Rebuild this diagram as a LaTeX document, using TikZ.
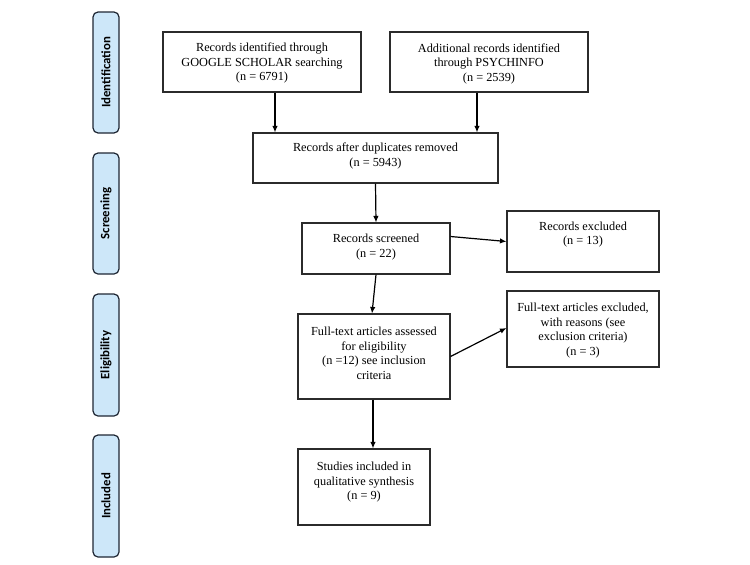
\documentclass[tikz,border=0pt]{standalone}
\usepackage{fontspec}
\setmainfont{Liberation Serif}
\newfontfamily\barfont{Carlito}
\usetikzlibrary{arrows.meta}
\definecolor{barfill}{HTML}{CDE7F9}
\definecolor{barline}{HTML}{1E2633}
\definecolor{boxline}{HTML}{2B2B2B}
\tikzset{
  box/.style={draw=boxline, line width=1.1pt, inner sep=0pt, fill=white},
  boxtext/.style={inner sep=0pt, align=center, font=\fontsize{12.3}{14.6}\selectfont},
  sidebar/.style={draw=barline, fill=barfill, line width=1.2pt, rounded corners=5pt, inner sep=0pt},
  sidetext/.style={rotate=90, font=\barfont\bfseries\fontsize{12.8}{14}\selectfont, inner sep=0pt},
  arr/.style={-{Latex[length=6.5pt,width=5.5pt]}, line width=1.2pt, black}
}
\newcommand{\flowbox}[7]{%
  \node[box, minimum width={(#4-#2)*1pt}, minimum height={(#5-#3)*1pt}] (#1) at ({(#2+#4)/2*1pt},{-(#3+#5)/2*1pt}) {};
  \node[boxtext, anchor=north, yshift={-#7pt}] (#1t) at (#1.north) {#6};
}
\newcommand{\sidebox}[4]{%
  \node[sidebar, minimum width=26pt, minimum height={(#3-#2)*1pt}] (#1) at (106pt,{-(#2+#3)/2*1pt}) {};
  \node[sidetext] (#1t) at (#1.center) {#4};
}
\begin{document}
\begin{tikzpicture}
\useasboundingbox (0,0) rectangle (750pt,-565pt);
\sidebox{sid}{12}{133}{Identification}
\sidebox{ssc}{153}{274}{Screening}
\sidebox{sel}{294}{416}{Eligibility}
\sidebox{sin}{435}{557}{Included}

\flowbox{b1}{163}{32}{361}{92}{Records identified through\\GOOGLE SCHOLAR searching\\(n = 6791)}{11.2}
\flowbox{b2}{390}{32}{588}{92}{Additional records identified\\through PSYCHINFO\\(n = 2539)}{11.8}
\flowbox{b3}{253}{133}{498}{183}{Records after duplicates removed\\(n = 5943)}{10.5}
\flowbox{b4}{302}{223}{450}{274}{Records screened\\(n = 22)}{11.5}
\flowbox{b5}{507}{211}{659}{272}{Records excluded\\(n = 13)}{11.2}
\flowbox{b6}{298}{314}{450}{399}{Full-text articles assessed\\for eligibility\\(n =12) see inclusion\\criteria}{13.5}
\flowbox{b7}{507}{291}{659}{367}{Full-text articles excluded,\\with reasons (see\\exclusion criteria)\\(n = 3)}{12.5}
\flowbox{b8}{298}{449}{430}{525}{Studies included in\\qualitative synthesis\\(n = 9)}{13.5}

\draw[arr] ([xshift=13pt]b1.south) -- ([xshift=13pt]b1.south |- b3.north);
\draw[arr] ([xshift=-12pt]b2.south) -- ([xshift=-12pt]b2.south |- b3.north);
\draw[arr] (b3.south) -- (b4.north);
\draw[arr] (b4.south) -- ([xshift=-2pt]b6.north);
\draw[arr] ([xshift=-1pt]b6.south) -- ([xshift=-1pt]b6.south |- b8.north);
\draw[arr] ([yshift=12pt]b4.east) -- (b5.west);
\draw[arr] (b6.east) -- ([yshift=1pt]b7.west);
\end{tikzpicture}
\end{document}
